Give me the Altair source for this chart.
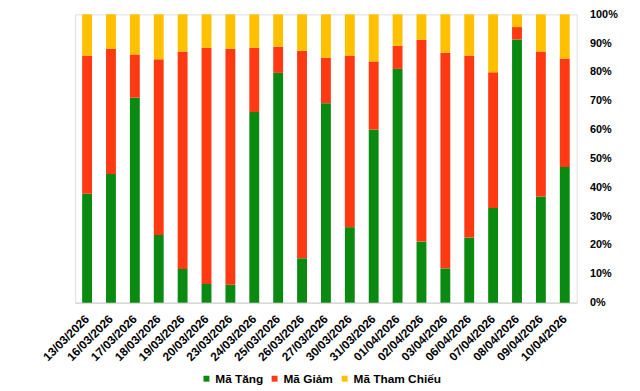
import altair as alt
import pandas as pd

dates = ["13/03/2026", "16/03/2026", "17/03/2026", "18/03/2026", "19/03/2026", "20/03/2026",
         "23/03/2026", "24/03/2026", "25/03/2026", "26/03/2026", "27/03/2026", "30/03/2026",
         "31/03/2026", "01/04/2026", "02/04/2026", "03/04/2026", "06/04/2026", "07/04/2026",
         "08/04/2026", "09/04/2026", "10/04/2026"]
ma_tang = [37.8, 44.6, 71.1, 23.5, 11.7, 6.5, 6.2, 66.1, 79.7, 15.4, 69.2, 26.2, 60.0, 81.1,
           21.2, 11.9, 22.6, 32.8, 91.3, 36.8, 47.1]
ma_giam = [47.9, 43.5, 15.0, 60.9, 75.4, 81.9, 81.9, 22.3, 9.1, 72.0, 15.8, 59.5, 23.7, 8.0,
           70.0, 74.8, 63.1, 47.1, 4.3, 50.3, 37.6]
ma_tham_chieu = [14.3, 11.9, 13.9, 15.6, 12.9, 11.6, 11.9, 11.6, 11.2, 12.6, 15.0, 14.3, 16.3,
                 10.9, 8.8, 13.3, 14.3, 20.1, 4.4, 12.9, 15.3]
series = ["Mã Tăng", "Mã Giảm", "Mã Tham Chiếu"]
colors = ["#0B8A12", "#FF3A13", "#FFC000"]

rows = []
for i, d in enumerate(dates):
    for k, (name, vals) in enumerate(zip(series, [ma_tang, ma_giam, ma_tham_chieu])):
        rows.append({"date": d, "series": name, "value": vals[i], "ord": k})
df = pd.DataFrame(rows)

chart = alt.Chart(df).mark_bar(size=10).encode(
    x=alt.X("date:N", sort=dates, title=None,
            scale=alt.Scale(paddingInner=0.55, paddingOuter=0.275),
            axis=alt.Axis(labelAngle=-45, labelAlign="right", labelBaseline="middle",
                          labelFont="Liberation Sans", labelFontSize=12, labelFontWeight="bold",
                          labelColor="#000000", ticks=False, labelPadding=14,
                          domainColor="#d9d9d9", domainWidth=1.5)),
    y=alt.Y("value:Q", stack="normalize", title=None,
            scale=alt.Scale(domain=[0, 1]),
            axis=alt.Axis(orient="right", format=".0%", values=[i / 10 for i in range(11)],
                          grid=False, domain=False, ticks=False, labelPadding=13,
                          labelAlign="left", labelFont="Liberation Sans", labelFontSize=11,
                          labelFontWeight="bold", labelColor="#000000")),
    color=alt.Color("series:N", sort=series,
                    scale=alt.Scale(domain=series, range=colors),
                    legend=alt.Legend(title=None, orient="none", direction="horizontal",
                                      legendX=127, legendY=363, symbolType="square",
                                      symbolSize=36, symbolStrokeWidth=0,
                                      labelFont="Liberation Sans", labelFontSize=12,
                                      labelFontWeight="bold",
                                      labelColor="#000000", labelOffset=3, columnPadding=5)),
    order=alt.Order("ord:Q", sort="ascending"),
).properties(
    width=508, height=292,
    autosize=alt.AutoSizeParams(type="none"),
    padding={"left": 68, "top": 4, "right": 56, "bottom": 87},
).configure_view(stroke=None).configure(background="#ffffff")

chart.save("out.html", embed_options={"renderer": "svg", "actions": False})
